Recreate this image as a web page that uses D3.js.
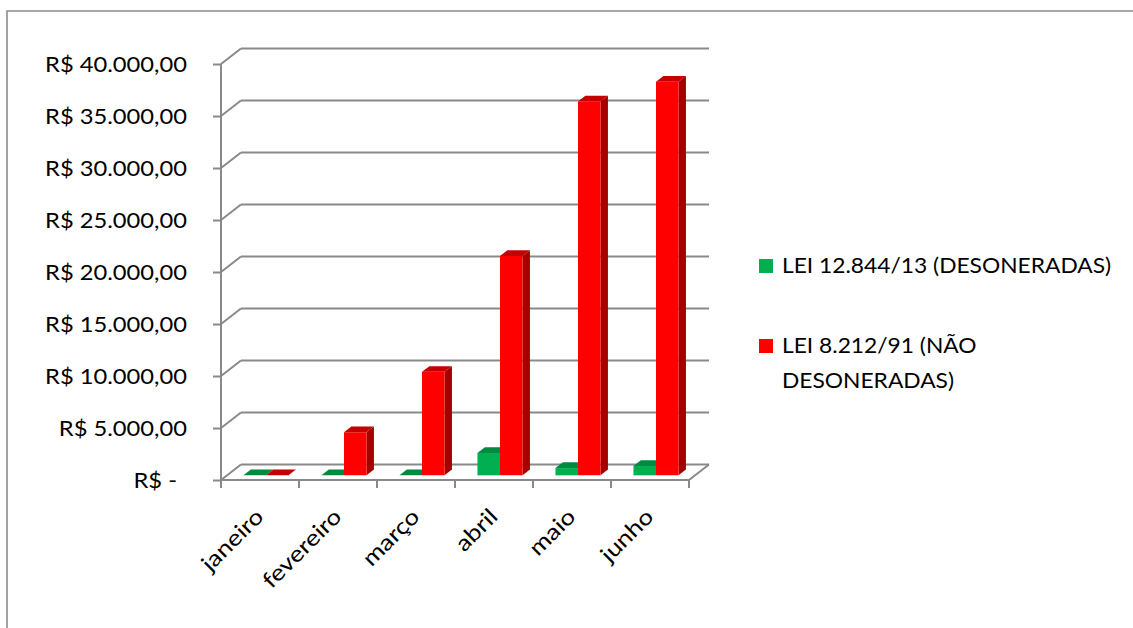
<!DOCTYPE html>
<html>
<head>
<meta charset="utf-8">
<script src="https://cdn.jsdelivr.net/npm/d3@7"></script>
<style>
  html, body { margin: 0; padding: 0; background: #fff; }
  svg { display: block; font-family: Lato, "Open Sans", sans-serif; }
</style>
</head>
<body>
<svg id="chart" width="1133" height="628"></svg>
<script>
// Monthly contributions by payroll regime (R$)
const months = ["janeiro", "fevereiro", "março", "abril", "maio", "junho"];
const seriesNames = ["LEI 12.844/13 (DESONERADAS)", "LEI 8.212/91 (NÃO DESONERADAS)"];
const desoneradas = [0, 0, 0, 2150, 700, 900];
const naoDesoneradas = [0, 4150, 9950, 21100, 35950, 37850];
const yTicks = [0, 5000, 10000, 15000, 20000, 25000, 30000, 35000, 40000];

const colors = {
  green: { front: "#00B050", top: "#008A3E", side: "#007A35" },
  red:   { front: "#FF0000", top: "#C40000", side: "#A50000" }
};
const seriesColors = [colors.green, colors.red];
const seriesValues = [desoneradas, naoDesoneradas];

const svg = d3.select("#chart");
const textScaleX = 1.13;
const fontSize = 21;
const gridColor = "#898989";

// Outer chart frame (top and left edges visible)
svg.append("path")
  .attr("d", "M7,628 L7,11 L1133,11")
  .attr("fill", "none")
  .attr("stroke", "#8c8c8c")
  .attr("stroke-width", 1.6);

// 3D box geometry: front plane plus a depth offset
const front = { left: 221, right: 689, bottom: 480, top: 64 };
const DX = 20, DY = -15.5;

const y = d3.scaleLinear().domain([0, 40000]).range([front.bottom, front.top]);
const x = d3.scaleBand().domain(months).range([front.left, front.right]).padding(0);
const xs = d3.scaleBand().domain([0, 1]).range([0, x.bandwidth()]).paddingInner(0).paddingOuter(0.73);

const g = svg.append("g");

// Back-wall gridlines and the diagonals joining them to the front axis
yTicks.forEach(t => {
  const yy = y(t);
  g.append("line")
    .attr("x1", front.left + DX).attr("x2", front.right + DX)
    .attr("y1", yy + DY).attr("y2", yy + DY)
    .attr("stroke", gridColor).attr("stroke-width", 2);
  g.append("line")
    .attr("x1", front.left).attr("x2", front.left + DX)
    .attr("y1", yy).attr("y2", yy + DY)
    .attr("stroke", gridColor).attr("stroke-width", 2);
});

// Floor front edge and right edge
g.append("path")
  .attr("d", `M${front.left},${y(0)} L${front.right},${y(0)} L${front.right + DX},${y(0) + DY}`)
  .attr("fill", "none").attr("stroke", gridColor).attr("stroke-width", 2);

// Category boundary ticks under the floor
const bounds = months.map(m => x(m)).concat([front.right]);
g.selectAll(".xtick").data(bounds).join("line")
  .attr("x1", d => d).attr("x2", d => d)
  .attr("y1", y(0)).attr("y2", y(0) + 8)
  .attr("stroke", gridColor).attr("stroke-width", 2);

// Front value axis
const fmt = d3.formatLocale({ decimal: ",", thousands: ".", grouping: [3], currency: ["R$ ", ""] }).format(",.2f");
const yAxis = d3.axisLeft(y)
  .tickValues(yTicks)
  .tickSize(8)
  .tickSizeOuter(0)
  .tickFormat(v => v === 0 ? "R$ -" : "R$ " + fmt(v));
const ya = g.append("g").attr("transform", `translate(${front.left},0)`).call(yAxis);
ya.select(".domain").attr("stroke", gridColor).attr("stroke-width", 2)
  .attr("d", `M0,${front.top} V${y(0) + 8}`);
ya.selectAll(".tick line").attr("stroke", gridColor).attr("stroke-width", 2);
ya.selectAll(".tick text")
  .attr("x", null).attr("dy", "0.36em")
  .attr("transform", d => `translate(${d === 0 ? -44 : -34},0) scale(${textScaleX},1)`)
  .attr("fill", "#000")
  .style("font-size", fontSize + "px")
  .style("font-family", "Lato, 'Open Sans', sans-serif");

// Bars: front face, top face, right side face, set at mid depth
const z0 = 0.3, z1 = 0.67;
months.forEach((m, i) => {
  seriesValues.forEach((vals, s) => {
    const v = vals[i];
    const c = seriesColors[s];
    const xl = x(m) + xs(s), xr = xl + xs.bandwidth();
    const yt = y(v), yb = y(0);
    const P = (px, py, z) => [px + z * DX, py + z * DY];
    const poly = pts => pts.map(p => p.join(",")).join(" ");
    const bar = g.append("g");
    if (v > 0) {
      bar.append("polygon").attr("points", poly([P(xr, yt, z0), P(xr, yt, z1), P(xr, yb, z1), P(xr, yb, z0)]))
        .attr("fill", c.side);
      bar.append("polygon").attr("points", poly([P(xl, yt, z0), P(xr, yt, z0), P(xr, yb, z0), P(xl, yb, z0)]))
        .attr("fill", c.front);
    }
    bar.append("polygon").attr("points", poly([P(xl, yt, z0), P(xr, yt, z0), P(xr, yt, z1), P(xl, yt, z1)]))
      .attr("fill", c.top);
  });
});

// Category labels, rotated
const xAxis = d3.axisBottom(x).tickSize(0).tickSizeOuter(0);
const xa = g.append("g").attr("transform", `translate(0,${y(0)})`).call(xAxis);
xa.select(".domain").remove();
xa.selectAll(".tick text")
  .attr("y", null).attr("dy", null)
  .attr("text-anchor", "end")
  .attr("transform", `translate(5,38) rotate(-45) scale(1.18,1)`)
  .attr("fill", "#000")
  .style("font-size", "22px")
  .style("font-family", "Lato, 'Open Sans', sans-serif");

// Legend
const legend = svg.append("g");
const legendRows = [
  { lines: ["LEI 12.844/13 (DESONERADAS)"], y: 273, color: colors.green.front },
  { lines: ["LEI 8.212/91 (NÃO", "DESONERADAS)"], y: 353, color: colors.red.front }
];
legendRows.forEach((r, k) => {
  legend.append("rect")
    .attr("x", 759).attr("y", r.y - 14).attr("width", 14).attr("height", 14)
    .attr("fill", r.color);
  const t = legend.append("text")
    .attr("transform", `translate(782,${r.y}) scale(1.085,1)`)
    .style("font-size", fontSize + "px")
    .attr("fill", "#000");
  r.lines.forEach((ln, j) => {
    t.append("tspan").attr("x", 0).attr("y", j * 35).text(ln);
  });
});
</script>
</body>
</html>
